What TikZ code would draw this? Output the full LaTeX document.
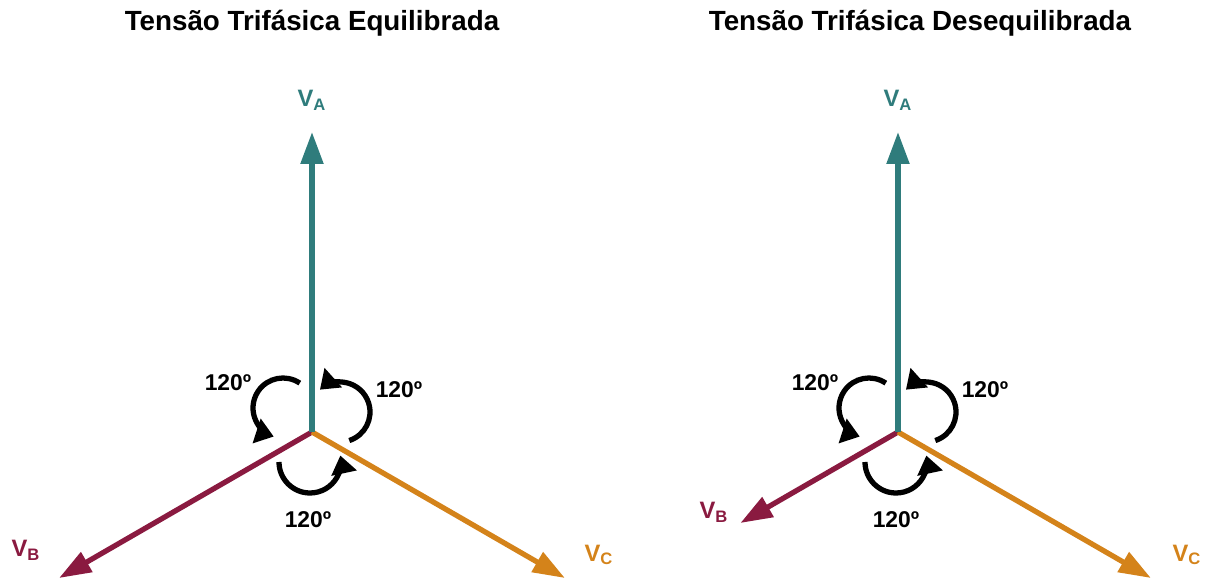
\documentclass[tikz,border=0pt]{standalone}
\usepackage{fontspec}
\setmainfont{Liberation Sans}
\usepackage{xcolor}
\usetikzlibrary{arrows.meta,calc}
\definecolor{PhaseA}{HTML}{2F7C7C}
\definecolor{PhaseB}{HTML}{8A1A40}
\definecolor{PhaseC}{HTML}{D4831A}
\tikzset{
  figure/.style={x=0.02cm,y=0.02cm,font=\bfseries},
  phasor/.style={line width=3pt,-{Triangle[length=0.64cm,width=0.44cm]}},
  turn/.style={line width=3pt,-{Triangle[length=0.36cm,width=0.5cm]}},
  heading/.style={font=\bfseries\fontsize{15.8}{18}\selectfont},
  angletext/.style={font=\bfseries\fontsize{13}{15}\selectfont},
  phaselabel/.style={font=\bfseries\fontsize{13.5}{15}\selectfont},
}

\begin{document}
\begin{tikzpicture}[figure]
  \useasboundingbox (0,0) rectangle (1207,578);

  % balanced system
  \node[heading] (titleL) at (312,555) {Tensão Trifásica Equilibrada};
  \coordinate (oL) at (312,146);
  \coordinate (aL) at ($(oL)+(90:300)$);
  \coordinate (bL) at ($(oL)+(210:292)$);
  \coordinate (cL) at ($(oL)+(-30:292)$);
  \draw[phasor,PhaseB] (oL) -- (bL);
  \draw[phasor,PhaseC] (oL) -- (cL);
  \draw[phasor,PhaseA] (oL) -- (aL);
  \node[phaselabel,text=PhaseA] (labAL) at (312,478) {V\textsubscript{A}};
  \node[phaselabel,text=PhaseB] (labBL) at (26,28) {V\textsubscript{B}};
  \node[phaselabel,text=PhaseC] (labCL) at (599,23) {V\textsubscript{C}};
  \draw[turn] (283,170) ++(56:30) arc[start angle=56,end angle=252,radius=30];
  \draw[turn] (340,166) ++(-72:30) arc[start angle=-72,end angle=132,radius=30];
  \draw[turn] (310,116) ++(180:31) arc[start angle=180,end angle=372,radius=31];
  \node[angletext] (angABL) at (228,195) {120º};
  \node[angletext] (angACL) at (399,188) {120º};
  \node[angletext] (angBCL) at (308,58) {120º};

  % unbalanced system
  \node[heading] (titleR) at (920,555) {Tensão Trifásica Desequilibrada};
  \coordinate (oR) at (898,146);
  \coordinate (aR) at ($(oR)+(90:300)$);
  \coordinate (bR) at ($(oR)+(210:182)$);
  \coordinate (cR) at ($(oR)+(-30:292)$);
  \draw[phasor,PhaseB] (oR) -- (bR);
  \draw[phasor,PhaseC] (oR) -- (cR);
  \draw[phasor,PhaseA] (oR) -- (aR);
  \node[phaselabel,text=PhaseA] (labAR) at (898,478) {V\textsubscript{A}};
  \node[phaselabel,text=PhaseB] (labBR) at (714,66) {V\textsubscript{B}};
  \node[phaselabel,text=PhaseC] (labCR) at (1187,23) {V\textsubscript{C}};
  \draw[turn] (869,170) ++(56:30) arc[start angle=56,end angle=252,radius=30];
  \draw[turn] (926,166) ++(-72:30) arc[start angle=-72,end angle=132,radius=30];
  \draw[turn] (896,116) ++(180:31) arc[start angle=180,end angle=372,radius=31];
  \node[angletext] (angABR) at (815,195) {120º};
  \node[angletext] (angACR) at (985,188) {120º};
  \node[angletext] (angBCR) at (896,58) {120º};
\end{tikzpicture}
\end{document}
